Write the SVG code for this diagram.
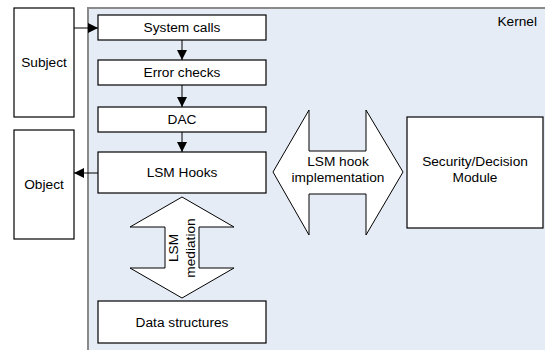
<svg xmlns="http://www.w3.org/2000/svg" width="545" height="350" viewBox="0 0 545 350">
<defs>
<style>
.box{fill:#fff;stroke:#000;stroke-width:1.2}
.t{font-family:"Liberation Sans",Arial,sans-serif;font-size:13.7px;fill:#000;text-anchor:middle}
.c{stroke:#000;stroke-width:1;fill:none}
</style>
<marker id="ah" viewBox="0 0 10 10" refX="10" refY="5" markerWidth="10" markerHeight="10" markerUnits="userSpaceOnUse" orient="auto">
<path d="M0,0 L10,5 L0,10 Z" fill="#000"/>
</marker>
</defs>
<g id="kernel">
<rect x="88" y="8" width="460" height="344" fill="#e6ecf6" stroke="#8a8a8a" stroke-width="2"/>
<text class="t" x="537" y="26" style="text-anchor:end">Kernel</text>
</g>
<g id="subject"><rect class="box" x="14" y="8" width="60" height="109"/><text class="t" x="44" y="67">Subject</text></g>
<g id="object"><rect class="box" x="14" y="130" width="60" height="109"/><text class="t" x="44" y="189">Object</text></g>
<g id="syscalls"><rect class="box" x="98" y="15" width="168" height="25"/><text class="t" x="182" y="32">System calls</text></g>
<g id="errchecks"><rect class="box" x="98" y="60" width="168" height="25"/><text class="t" x="182" y="77">Error checks</text></g>
<g id="dac"><rect class="box" x="98" y="107" width="168" height="25"/><text class="t" x="182" y="124">DAC</text></g>
<g id="lsmhooks"><rect class="box" x="98" y="152" width="168" height="41"/><text class="t" x="182" y="177">LSM Hooks</text></g>
<g id="datastructs"><rect class="box" x="98" y="301" width="168" height="42"/><text class="t" x="182" y="327">Data structures</text></g>
<g id="secmodule"><rect class="box" x="407" y="117" width="136" height="111"/><text class="t" x="475" y="166">Security/Decision</text><text class="t" x="475" y="182">Module</text></g>
<g id="mediation">
<path class="box" d="M182,197 L234,227 L199,227 L199,268 L234,268 L182,298 L130,268 L165,268 L165,227 L130,227 Z" style="stroke-width:1"/>
<text class="t" transform="translate(181,248) rotate(-90)" y="-3">LSM</text>
<text class="t" transform="translate(181,248) rotate(-90)" y="14">mediation</text>
</g>
<g id="hookimpl">
<path class="box" d="M273,172 L309,110 L309,151 L366,151 L366,110 L403,172 L366,235 L366,194 L309,194 L309,235 Z" style="stroke-width:1"/>
<text class="t" x="338" y="166">LSM hook</text>
<text class="t" x="338" y="182">implementation</text>
</g>
<g id="connectors">
<line class="c" x1="74" y1="28" x2="98" y2="28" marker-end="url(#ah)"/>
<line class="c" x1="182" y1="40" x2="182" y2="60" marker-end="url(#ah)"/>
<line class="c" x1="182" y1="85" x2="182" y2="107" marker-end="url(#ah)"/>
<line class="c" x1="182" y1="132" x2="182" y2="152" marker-end="url(#ah)"/>
<line class="c" x1="98" y1="173" x2="74" y2="173" marker-end="url(#ah)"/>
</g>
</svg>
